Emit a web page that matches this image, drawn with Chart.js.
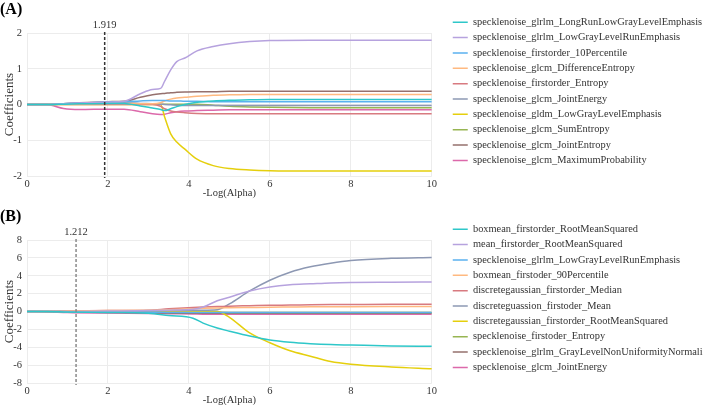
<!DOCTYPE html>
<html>
<head>
<meta charset="utf-8">
<script src="https://cdn.jsdelivr.net/npm/chart.js@4.4.1/dist/chart.umd.min.js"></script>
<style>
  html, body { margin: 0; padding: 0; background: #fff; overflow: hidden; }
  #wrap { position: relative; width: 703px; height: 405px; overflow: hidden; }
  #wrap canvas { position: absolute; left: 0; }
  #chartA { top: 0; }
  #chartB { top: 207px; }
</style>
</head>
<body>
<div id="wrap">
  <canvas id="chartA" width="703" height="207"></canvas>
  <canvas id="chartB" width="703" height="207"></canvas>
</div>
<script>
var colors = ['#2ec7c9', '#b6a2de', '#5ab1ef', '#ffb980', '#d87a80', '#8d98b3', '#e5cf0d', '#97b552', '#95706d', '#dc69aa'];

// (A)
var alphaA = 1.919;
var logAlphaA = [0, 0.5, 0.6, 0.9, 1.3, 2.0, 2.4, 2.8, 3.1, 3.3, 3.4, 3.55, 3.7, 3.9, 4.2, 4.6, 5.0, 5.5, 6.0, 7.0, 8.0, 10];
var namesA = [
  'specklenoise_glrlm_LongRunLowGrayLevelEmphasis',
  'specklenoise_glrlm_LowGrayLevelRunEmphasis',
  'specklenoise_firstorder_10Percentile',
  'specklenoise_glcm_DifferenceEntropy',
  'specklenoise_firstorder_Entropy',
  'specklenoise_glcm_JointEnergy',
  'specklenoise_gldm_LowGrayLevelEmphasis',
  'specklenoise_glcm_SumEntropy',
  'specklenoise_glcm_JointEntropy',
  'specklenoise_glcm_MaximumProbability'
];
var longRunLowGrayA = [0, 0, 0, 0.01, 0.02, 0.03, 0.03, -0.04, -0.1, -0.14, -0.17, -0.12, -0.06, 0, 0.06, 0.1, 0.12, 0.13, 0.14, 0.14, 0.14, 0.14];
var lowGrayRunA = [0, 0, 0, 0.02, 0.04, 0.07, 0.09, 0.3, 0.42, 0.45, 0.65, 0.97, 1.2, 1.3, 1.5, 1.62, 1.7, 1.76, 1.79, 1.8, 1.8, 1.8];
var percentile10A = [0, 0, 0, 0.02, 0.04, 0.07, 0.08, 0.1, 0.11, 0.11, 0.11, 0.1, 0.1, 0.09, 0.09, 0.08, 0.08, 0.08, 0.08, 0.08, 0.08, 0.08];
var diffEntropyA = [0, 0, 0, 0.01, 0.02, 0.03, 0.03, 0.02, 0.02, 0.05, 0.1, 0.15, 0.18, 0.2, 0.23, 0.26, 0.27, 0.28, 0.28, 0.28, 0.28, 0.28];
var entropyA = [0, 0, 0, 0, 0, 0, 0, 0, 0, -0.05, -0.12, -0.18, -0.21, -0.23, -0.25, -0.26, -0.26, -0.26, -0.26, -0.26, -0.26, -0.26];
var jointEnergyA = [0, 0, 0, 0.01, 0.02, 0.04, 0.05, 0.03, 0.02, 0.01, 0, -0.01, -0.02, -0.03, -0.03, -0.03, -0.03, -0.03, -0.03, -0.03, -0.03, -0.03];
var lowGrayEmphA = [0, 0, 0, 0, 0, 0, 0, 0, 0, 0, -0.35, -0.82, -1.05, -1.25, -1.53, -1.71, -1.79, -1.83, -1.85, -1.86, -1.86, -1.86];
var sumEntropyA = [0, 0, 0, 0.01, 0.01, 0.01, 0.01, 0.01, 0.01, 0.01, 0.01, 0.01, 0.01, 0.01, 0.01, -0.02, -0.05, -0.07, -0.08, -0.09, -0.09, -0.09];
var jointEntropyA = [0, 0, 0, 0.02, 0.05, 0.08, 0.09, 0.2, 0.27, 0.3, 0.31, 0.33, 0.34, 0.35, 0.36, 0.36, 0.37, 0.37, 0.37, 0.37, 0.37, 0.37];
var maxProbA = [0, 0, -0.02, -0.11, -0.14, -0.13, -0.13, -0.2, -0.26, -0.28, -0.27, -0.23, -0.2, -0.18, -0.17, -0.16, -0.15, -0.15, -0.15, -0.15, -0.15, -0.15];

// (B)
var alphaB = 1.212;
var logAlphaB = [0, 0.5, 1, 2, 3, 3.5, 4.1, 4.35, 4.7, 5.0, 5.5, 6.0, 6.5, 7.0, 7.5, 8.0, 9.0, 10];
var namesB = [
  'boxmean_firstorder_RootMeanSquared',
  'mean_firstorder_RootMeanSquared',
  'specklenoise_glrlm_LowGrayLevelRunEmphasis',
  'boxmean_firstoder_90Percentile',
  'discretegaussian_firstorder_Median',
  'discreteguassion_firstoder_Mean',
  'discretegaussian_firstorder_RootMeanSquared',
  'specklenoise_firstoder_Entropy',
  'specklenoise_glrlm_GrayLevelNonUniformityNormalized',
  'specklenoise_glcm_JointEnergy'
];
var boxmeanRmsB = [0, 0, -0.05, -0.1, -0.2, -0.45, -0.75, -1.3, -1.85, -2.2, -2.75, -3.2, -3.45, -3.6, -3.7, -3.75, -3.85, -3.9];
var meanRmsB = [0, 0, 0, 0.05, 0.1, 0.15, 0.25, 0.5, 1.2, 1.6, 2.3, 2.75, 3.0, 3.1, 3.2, 3.25, 3.28, 3.3];
var lowGrayRunB = [0, 0, -0.02, -0.05, -0.08, -0.1, -0.1, -0.1, -0.1, -0.1, -0.1, -0.1, -0.1, -0.1, -0.1, -0.1, -0.1, -0.1];
var boxmean90B = [0, 0.02, 0.05, 0.1, 0.15, 0.2, 0.3, 0.35, 0.4, 0.42, 0.45, 0.48, 0.5, 0.52, 0.53, 0.54, 0.55, 0.55];
var medianB = [0, 0.02, 0.05, 0.1, 0.15, 0.3, 0.45, 0.5, 0.55, 0.6, 0.65, 0.7, 0.72, 0.75, 0.77, 0.78, 0.8, 0.8];
var meanB = [0, 0, 0, 0, 0.05, 0.1, 0.15, 0.15, 0.2, 0.85, 2.3, 3.5, 4.4, 5.0, 5.4, 5.7, 5.95, 6.05];
var dgRmsB = [0, 0, 0, 0, 0, 0, 0, 0, 0, -0.65, -2.4, -3.5, -4.4, -5.0, -5.6, -5.9, -6.2, -6.4];
var entropyB = [0, 0.01, 0.03, 0.05, 0.05, 0.03, 0, -0.05, -0.08, -0.1, -0.1, -0.1, -0.1, -0.1, -0.1, -0.1, -0.1, -0.1];
var glnunB = [0, -0.02, -0.05, -0.1, -0.15, -0.18, -0.2, -0.2, -0.2, -0.2, -0.2, -0.2, -0.2, -0.2, -0.2, -0.2, -0.2, -0.2];
var jointEnergyB = [0, -0.02, -0.12, -0.18, -0.22, -0.25, -0.28, -0.3, -0.3, -0.3, -0.3, -0.3, -0.3, -0.3, -0.3, -0.3, -0.3, -0.3];

var serif = "'Liberation Serif', 'Times New Roman', serif";
Chart.defaults.font.family = serif;
Chart.defaults.color = '#333';

// dashed line at the chosen alpha, with its value above the plot
var alphaLine = {
  id: 'alphaLine',
  afterDatasetsDraw: function (chart, args, opts) {
    var area = chart.chartArea;
    var x = chart.scales.x.getPixelForValue(opts.value);
    var ctx = chart.ctx;
    ctx.save();
    ctx.strokeStyle = opts.color;
    ctx.lineWidth = 1.5;
    ctx.setLineDash([3, 2]);
    ctx.beginPath();
    ctx.moveTo(x, area.top - 1);
    ctx.lineTo(x, area.bottom + 2);
    ctx.stroke();
    ctx.setLineDash([]);
    ctx.fillStyle = '#333';
    ctx.font = '10.5px ' + serif;
    ctx.textAlign = 'center';
    ctx.textBaseline = 'middle';
    ctx.fillText(opts.value.toFixed(3), x, area.top - 8);
    ctx.restore();
  }
};

const pathChart = function (canvasName, panel, xs, names, series, yMin, yMax, yStep, alpha, alphaColor) {
  var datasets = series.map(function (values, n) {
    return {
      label: names[n],
      data: xs.map(function (x, i) { return {x: x, y: values[i]}; }),
      borderColor: colors[n],
      backgroundColor: colors[n],
      borderWidth: 1.5,
      pointRadius: 0,
      cubicInterpolationMode: 'monotone'
    };
  });

  var config = {
    type: 'line',
    data: {datasets: datasets},
    plugins: [alphaLine],
    options: {
      responsive: false,
      animation: false,
      plugins: {
        title: {
          display: true,
          text: panel,
          align: 'start',
          color: '#000',
          font: {size: 16, weight: 'bold', lineHeight: 0.75},
          padding: {top: 3.5, bottom: 17.5}
        },
        legend: {
          position: 'right',
          align: 'start',
          maxWidth: 255.2,
          title: {display: true, text: '', font: {size: 10, lineHeight: 1}, padding: {top: 0, bottom: 2.1}},
          labels: {
            usePointStyle: true,
            pointStyle: 'line',
            pointStyleWidth: 15,
            padding: 4.95,
            color: '#333',
            font: {size: 10.4}
          }
        },
        tooltip: {enabled: false},
        alphaLine: {value: alpha, color: alphaColor}
      },
      scales: {
        x: {
          type: 'linear',
          min: 0,
          max: 10,
          afterFit: function (scale) { scale.height = 31; },
          border: {display: false},
          grid: {color: '#ececec', drawTicks: false},
          ticks: {stepSize: 2, padding: 2, font: {size: 10.5}},
          title: {display: true, text: '-Log(Alpha)', font: {size: 10.5, lineHeight: 1.2}, padding: {top: 0, bottom: 7.5}}
        },
        y: {
          min: yMin,
          max: yMax,
          afterFit: function (scale) { scale.width = 27; },
          border: {display: false},
          grid: {color: '#ececec', drawTicks: false},
          ticks: {stepSize: yStep, padding: 5, font: {size: 10.5}},
          title: {display: true, text: 'Coefficients', font: {size: 13, lineHeight: 1.2}, padding: {top: 2.2, bottom: 0}}
        },
        gap: {
          type: 'linear',
          position: 'right',
          afterFit: function (scale) { scale.width = 16.0; },
          border: {display: false},
          grid: {display: false},
          ticks: {display: false}
        }
      }
    }
  };

  var ctx = document.getElementById(canvasName).getContext('2d');
  new Chart(ctx, config);
};

pathChart('chartA', '(A)', logAlphaA, namesA,
  [longRunLowGrayA, lowGrayRunA, percentile10A, diffEntropyA, entropyA, jointEnergyA, lowGrayEmphA, sumEntropyA, jointEntropyA, maxProbA],
  -2, 2, 1, alphaA, '#333');

pathChart('chartB', '(B)', logAlphaB, namesB,
  [boxmeanRmsB, meanRmsB, lowGrayRunB, boxmean90B, medianB, meanB, dgRmsB, entropyB, glnunB, jointEnergyB],
  -8, 8, 2, alphaB, '#8a8a8a');
</script>
</body>
</html>
